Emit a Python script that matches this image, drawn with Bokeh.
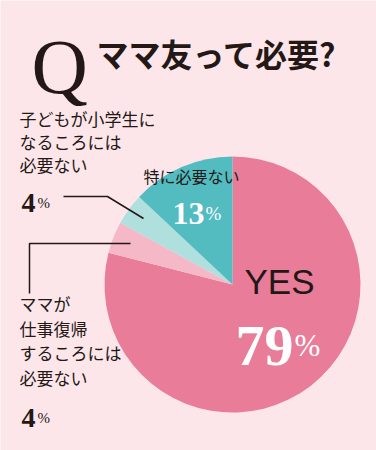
import math
from bokeh.plotting import figure
from bokeh.models import Range1d
from bokeh.core.properties import value
from bokeh.embed import file_html
from bokeh.resources import INLINE

# ---- data ----
categories = ["YES", "ママが仕事復帰するころには必要ない", "子どもが小学生になるころには必要ない", "特に必要ない"]
values = [79, 4, 4, 13]
colors = ["#e97c99", "#f5b8c6", "#afe0de", "#52bcc1"]
title_q = "Q"
title_text = "ママ友って必要?"
label_yes = "YES"
label_kids = ["子どもが小学生に", "なるころには", "必要ない"]
label_work = ["ママが", "仕事復帰", "するころには", "必要ない"]
label_none = "特に必要ない"

W, H = 376, 450
BG = "#fce6ea"
INK = "#231815"
JP = "Noto Sans CJK JP"
SERIF = "Liberation Serif"


def Y(v):
    return H - v


p = figure(width=W, height=H, x_range=Range1d(0, W), y_range=Range1d(0, H),
           x_axis_type=None, y_axis_type=None, toolbar_location=None,
           output_backend="svg", min_border=0,
           background_fill_color=BG, border_fill_color=BG)
p.outline_line_color = None
p.grid.visible = False

# ---- pie ----
cx, cy, r = 232, 284, 128
total = sum(values)
starts, ends = [], []
cum = 0
for v in values:
    starts.append(math.radians(90 - cum / total * 360))
    cum += v
    ends.append(math.radians(90 - cum / total * 360))
p.wedge(x=[cx] * len(values), y=[Y(cy)] * len(values), radius=r,
        start_angle=starts, end_angle=ends, direction="clock",
        fill_color=colors, line_color=None)


def txt(x, y, t, size, font=JP, color=INK, style="normal", baseline="middle", align="left"):
    p.text(x=[x], y=[Y(y)], text=[t], text_font=value(font), text_font_size=value(size),
           text_font_style=style, text_color=color, text_baseline=baseline, text_align=align)


# ---- title ----
txt(31, 66, title_q, "78px", font=SERIF, baseline="alphabetic")
txt(96, 52, title_text, "32px", style="bold")

# ---- upper-left label ----
for i, s in enumerate(label_kids):
    txt(19, 118 + i * 23, s, "17px")
txt(21, 202, str(values[2]), "28px", font=SERIF, style="bold", baseline="alphabetic")
txt(37, 202, "%", "15px", font=SERIF, baseline="alphabetic")
p.line(x=[63, 107, 143], y=[Y(196), Y(196), Y(218)], line_color=INK, line_width=1.5)

# ---- lower-left label ----
p.line(x=[29, 29, 130], y=[Y(293), Y(243), Y(243)], line_color=INK, line_width=1.5)
for i, s in enumerate(label_work):
    txt(19, 303 + i * 24.7, s, "17px")
txt(21, 417, str(values[1]), "28px", font=SERIF, style="bold", baseline="alphabetic")
txt(37, 417, "%", "15px", font=SERIF, baseline="alphabetic")

# ---- teal label ----
txt(143, 175, label_none, "16px")
txt(172, 213, str(values[3]), "32px", font=SERIF, style="bold", color="white", baseline="alphabetic")
txt(205, 213, "%", "19px", font=SERIF, color="white", baseline="alphabetic")

# ---- YES label ----
txt(244, 281, label_yes, "35px", font="Liberation Sans", baseline="middle")
txt(235, 345, str(values[0]), "58px", font=SERIF, style="bold", color="white", baseline="alphabetic")
txt(294, 345, "%", "31px", font=SERIF, color="white", baseline="alphabetic")

open("out.html", "w").write(file_html(p, INLINE))
